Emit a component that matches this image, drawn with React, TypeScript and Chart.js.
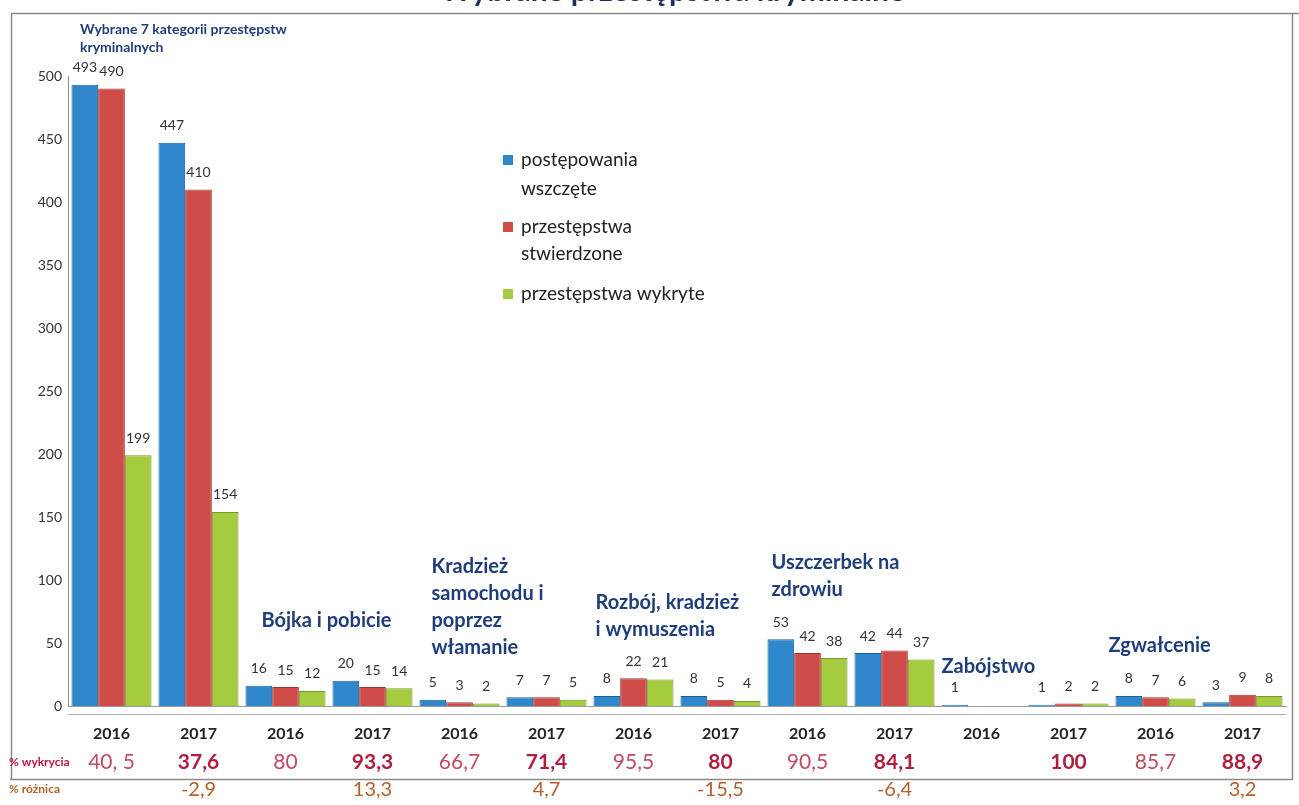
import { useEffect, useRef } from "react";
import { Chart, registerables } from "chart.js";

Chart.register(...registerables);

const FONT = "Lato, 'Open Sans', 'DejaVu Sans', sans-serif";

const title = "Wybrane przestępstwa kryminalne";
const subtitleLines = ["Wybrane 7 kategorii przestępstw", "kryminalnych"];

const years = ["2016", "2017", "2016", "2017", "2016", "2017", "2016", "2017", "2016", "2017", "2016", "2017", "2016", "2017"];

const seriesLabels = ["postępowania wszczęte", "przestępstwa stwierdzone", "przestępstwa wykryte"];
const legendLines = [["postępowania", "wszczęte"], ["przestępstwa", "stwierdzone"], ["przestępstwa wykryte"]];

const started = [493, 447, 16, 20, 5, 7, 8, 8, 53, 42, 1, 1, 8, 3];
const confirmed = [490, 410, 15, 15, 3, 7, 22, 5, 42, 44, null, 2, 7, 9];
const detected = [199, 154, 12, 14, 2, 5, 21, 4, 38, 37, null, 2, 6, 8];

const seriesColors = ["#2f88cc", "#cf4c48", "#a4cc3e"];
const seriesBorders = ["#1f5f95", "#9c3431", "#77982a"];

const yMax = 500;
const yStep = 50;

const detectionRate = ["40, 5", "37,6", "80", "93,3", "66,7", "71,4", "95,5", "80", "90,5", "84,1", "", "100", "85,7", "88,9"];
const difference = ["", "-2,9", "", "13,3", "", "4,7", "", "-15,5", "", "-6,4", "", "", "", "3,2"];

const categoryNames = [
  { lines: ["Bójka i pobicie"], index: 2, value: 68, dx: -24 },
  { lines: ["Kradzież", "samochodu i", "poprzez", "włamanie"], index: 4, value: 111, dx: -28 },
  { lines: ["Rozbój, kradzież", "i wymuszenia"], index: 6, value: 82, dx: -38 },
  { lines: ["Uszczerbek na", "zdrowiu"], index: 8, value: 114, dx: -36 },
  { lines: ["Zabójstwo"], index: 10, value: 31, dx: -40 },
  { lines: ["Zgwałcenie"], index: 12, value: 48, dx: -47 },
];

const overlayPlugin = {
  id: "overlay",
  afterDatasetsDraw(chart: any) {
    const { ctx } = chart;
    ctx.save();
    ctx.fillStyle = "#333";
    ctx.font = `14px ${FONT}`;
    ctx.textAlign = "center";
    ctx.textBaseline = "middle";
    chart.data.datasets.forEach((ds: any, di: number) => {
      const meta = chart.getDatasetMeta(di);
      meta.data.forEach((bar: any, i: number) => {
        const v = ds.data[i];
        if (v === null || v === undefined) return;
        ctx.fillText(String(v), bar.x, bar.y - 17);
      });
    });
    ctx.restore();
  },
  afterDraw(chart: any) {
    const { ctx, chartArea } = chart;
    const xs = chart.scales.x;
    const ys = chart.scales.y;
    ctx.save();

    // title (cut off at the top)
    ctx.fillStyle = "#1f2f5c";
    ctx.font = `bold 30px ${FONT}`;
    ctx.textAlign = "right";
    ctx.textBaseline = "alphabetic";
    ctx.fillText(title, 905, 1);

    // frame
    ctx.strokeStyle = "#8a8a8a";
    ctx.lineWidth = 1.5;
    ctx.beginPath();
    ctx.moveTo(11, 13.5);
    ctx.lineTo(1299, 13.5);
    ctx.moveTo(11.5, 13);
    ctx.lineTo(11.5, 780);
    ctx.moveTo(10, 779.5);
    ctx.lineTo(1292, 779.5);
    ctx.moveTo(1292.5, 13);
    ctx.lineTo(1292.5, 780);
    ctx.stroke();

    // floor
    ctx.strokeStyle = "#b0b0b0";
    ctx.lineWidth = 1;
    ctx.beginPath();
    ctx.moveTo(chartArea.left, chartArea.bottom + 8.5);
    ctx.lineTo(chartArea.right, chartArea.bottom + 8.5);
    ctx.stroke();

    // subtitle
    ctx.fillStyle = "#1f3d7a";
    ctx.font = `bold 14px ${FONT}`;
    ctx.textAlign = "left";
    ctx.textBaseline = "middle";
    subtitleLines.forEach((l, k) => ctx.fillText(l, 80, 29 + k * 18));

    // category names
    ctx.font = `bold 20px ${FONT}`;
    categoryNames.forEach((c) => {
      const x = xs.getPixelForValue(c.index) + c.dx;
      const y = ys.getPixelForValue(c.value);
      c.lines.forEach((l, k) => ctx.fillText(l, x, y + k * 27));
    });

    // legend
    const legendYs = [[160, 189], [227, 254], [294]];
    ctx.font = `19px ${FONT}`;
    legendLines.forEach((lines, k) => {
      ctx.fillStyle = seriesColors[k];
      ctx.fillRect(503, legendYs[k][0] - 5, 10, 10);
      ctx.fillStyle = "#222";
      lines.forEach((l, j) => ctx.fillText(l, 521, legendYs[k][j]));
    });

    // table rows
    ctx.textAlign = "left";
    ctx.font = `bold 12px ${FONT}`;
    ctx.fillStyle = "#c0143c";
    ctx.fillText("% wykrycia", 9, 762);
    ctx.fillStyle = "#b5602a";
    ctx.fillText("% różnica", 9, 789);

    ctx.textAlign = "center";
    years.forEach((_, i) => {
      const x = xs.getPixelForValue(i);
      const r = detectionRate[i];
      if (r) {
        const bold = i % 2 === 1;
        ctx.font = `${bold ? "bold " : ""}21px ${FONT}`;
        ctx.fillStyle = bold ? "#b01e3e" : "#c24a62";
        ctx.fillText(r, x, 762);
      }
      const d = difference[i];
      if (d) {
        ctx.font = `20px ${FONT}`;
        ctx.fillStyle = "#b5602a";
        ctx.fillText(d, x, 790);
      }
    });

    ctx.restore();
  },
};

export default function App() {
  const ref = useRef<HTMLCanvasElement | null>(null);

  useEffect(() => {
    document.body.style.margin = "0";
    const canvas = ref.current;
    if (!canvas) return;
    const datasetsSrc = [started, confirmed, detected];
    const chart = new Chart(canvas, {
      type: "bar",
      data: {
        labels: years,
        datasets: datasetsSrc.map((d, k) => ({
          label: seriesLabels[k],
          data: d,
          backgroundColor: seriesColors[k],
          borderColor: seriesBorders[k],
          borderWidth: 1,
          categoryPercentage: 0.92,
          barPercentage: 1.0,
        })),
      },
      options: {
        responsive: false,
        animation: false,
        maintainAspectRatio: false,
        layout: { padding: { top: 76, right: 13, left: 0, bottom: 0 } },
        plugins: {
          legend: { display: false },
          tooltip: { enabled: false },
          title: { display: false },
        },
        scales: {
          x: {
            grid: { display: false, drawTicks: false },
            border: { display: true, color: "#9a9a9a" },
            ticks: {
              color: "#222",
              font: { family: FONT, size: 16, weight: "bold" },
              padding: 18,
              maxRotation: 0,
              autoSkip: false,
            },
            afterFit: (s: any) => {
              s.height = 99;
            },
          },
          y: {
            min: 0,
            max: yMax,
            grid: { display: false, drawTicks: false },
            border: { display: true, color: "#8a8a8a" },
            ticks: {
              stepSize: yStep,
              color: "#333",
              font: { family: FONT, size: 14 },
              padding: 6,
            },
            afterFit: (s: any) => {
              s.width = 68;
            },
          },
        },
      },
      plugins: [overlayPlugin],
    });
    return () => chart.destroy();
  }, []);

  return (
    <div style={{ width: 1299, height: 805, background: "#fff" }}>
      <canvas ref={ref} width={1299} height={805} style={{ display: "block" }} />
    </div>
  );
}
